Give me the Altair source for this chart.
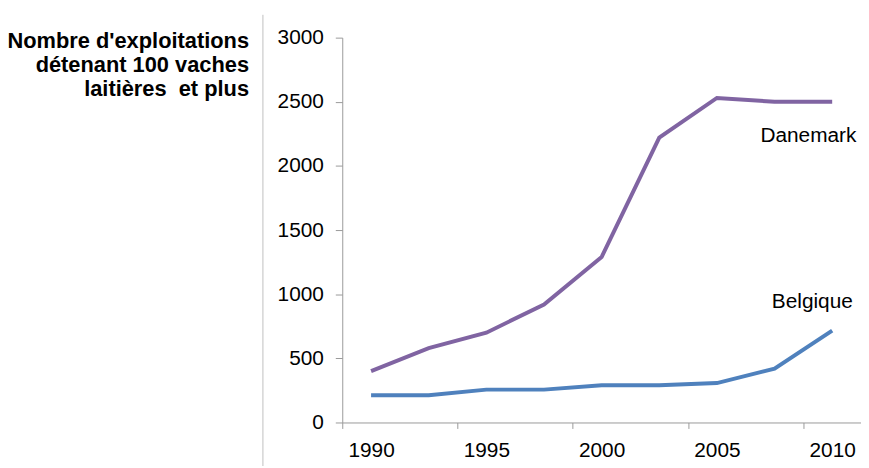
import altair as alt
import pandas as pd

# ---- data ----
years = ["1990", "1993", "1995", "1997", "2000", "2003", "2005", "2007", "2010"]
tick_years = ["1990", "1995", "2000", "2005", "2010"]
danemark = [400, 580, 700, 920, 1290, 2220, 2530, 2500, 2500]
belgique = [212, 212, 256, 256, 290, 290, 307, 420, 716]
series = ["Danemark", "Belgique"]
colors = ["#8064A2", "#4F81BD"]
y_ticks = [0, 500, 1000, 1500, 2000, 2500, 3000]
title_lines = ["Nombre d'exploitations", "détenant 100 vaches", "laitières\u00a0 et plus"]

rows = []
for name, vals in zip(series, [danemark, belgique]):
    for yr, v in zip(years, vals):
        rows.append({"year": yr, "value": v, "pays": name})
df = pd.DataFrame(rows)

W, H = 523, 388
half = W / len(years) / 2
FONT = "Liberation Sans"

base = alt.Chart(df)

x_enc = alt.X(
    "year:O",
    sort=years,
    scale=alt.Scale(type="point", padding=0.5),
    axis=alt.Axis(
        values=tick_years,
        tickOffset=-half,
        labelOffset=half,
        labelAngle=0,
        title=None,
        tickSize=6,
        labelPadding=11,
    ),
)
y_enc = alt.Y(
    "value:Q",
    scale=alt.Scale(domain=[0, 3000], nice=False),
    axis=alt.Axis(values=y_ticks, format="d", title=None, grid=False, tickSize=7, labelPadding=12),
)

lines = base.mark_line(strokeWidth=4).encode(
    x=x_enc,
    y=y_enc,
    color=alt.Color("pays:N", scale=alt.Scale(domain=series, range=colors), legend=None),
)

lab_dk = base.transform_filter(
    (alt.datum.pays == "Danemark") & (alt.datum.year == years[-1])
).mark_text(fontSize=21, font=FONT, color="#000000", dx=-24, dy=35).encode(
    x=alt.X("year:O", sort=years), y="value:Q", text="pays:N"
)
lab_be = base.transform_filter(
    (alt.datum.pays == "Belgique") & (alt.datum.year == years[-1])
).mark_text(fontSize=21, font=FONT, color="#000000", dx=-20, dy=-29).encode(
    x=alt.X("year:O", sort=years), y="value:Q", text="pays:N"
)

one = pd.DataFrame({"t": [0]})
title_text = alt.Chart(one).mark_text(
    align="right",
    baseline="alphabetic",
    fontSize=22,
    fontWeight="bold",
    font=FONT,
    lineHeight=24.5,
    color="#000000",
).encode(x=alt.value(-94), y=alt.value(10), text=alt.value(title_lines))

sep = alt.Chart(one).mark_rule(color="#c0c0c0", strokeWidth=1).encode(
    x=alt.value(-80), y=alt.value(-23), y2=alt.value(440)
)

chart = (
    alt.layer(lines, lab_dk, lab_be, title_text, sep)
    .properties(
        width=W,
        height=H,
        padding={"left": 337, "top": 28, "right": 0, "bottom": 42},
        autosize=alt.AutoSizeParams(type="none"),
    )
    .configure_view(stroke=None)
    .configure_axis(
        domainColor="#9a9a9a",
        tickColor="#9a9a9a",
        labelColor="#000000",
        labelFont=FONT,
        labelFontSize=21,
    )
)

chart.save("out.html", embed_options={"renderer": "svg", "actions": False})
